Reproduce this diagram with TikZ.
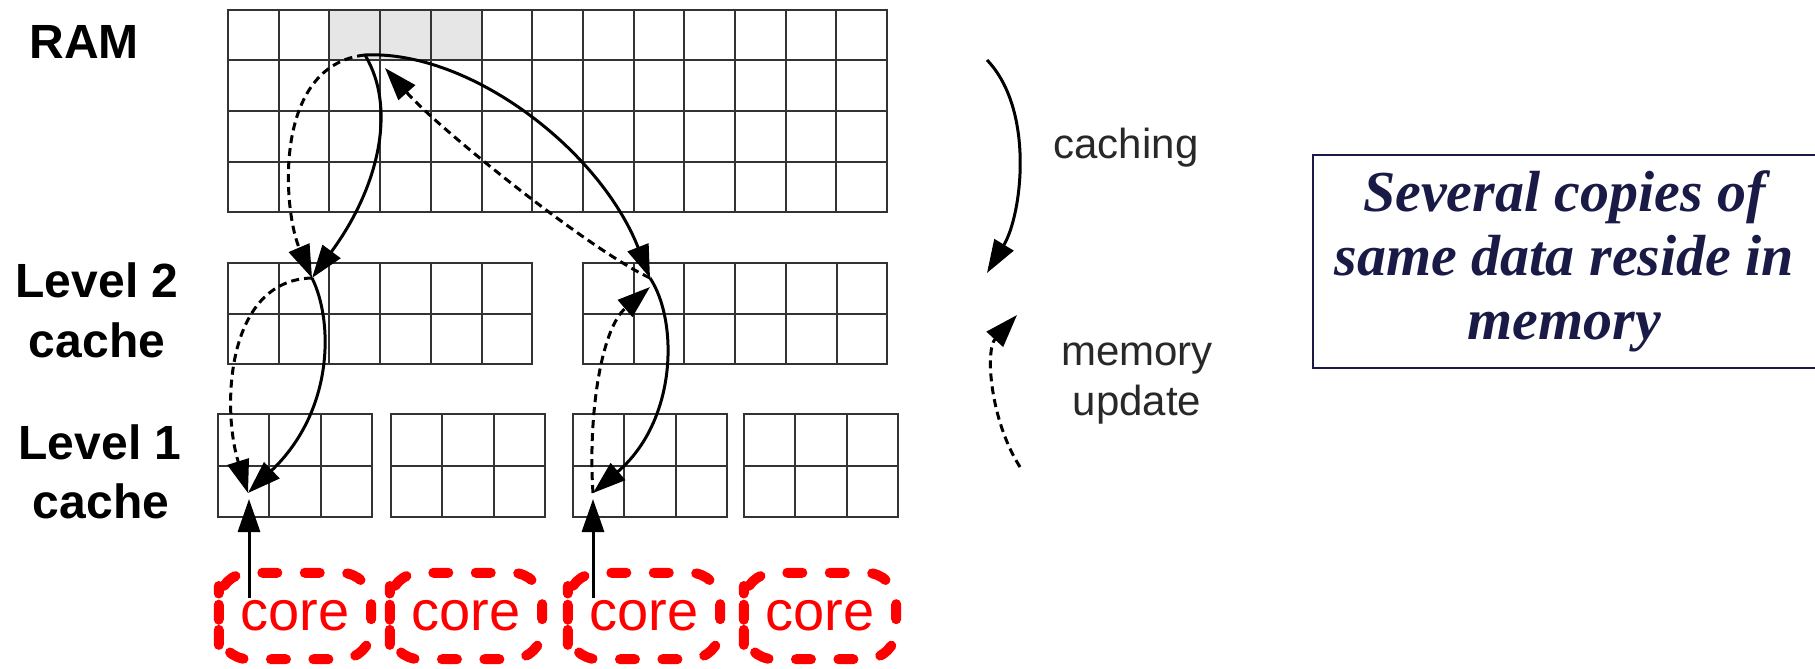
\documentclass[tikz,border=0pt]{standalone}
\usepackage{fontspec}
\setmainfont{Liberation Sans}
\newfontfamily\notefont{Liberation Serif}
\usetikzlibrary{arrows.meta}
\definecolor{navy}{RGB}{26,26,70}
\definecolor{cellgray}{RGB}{230,230,230}
\definecolor{labelgray}{RGB}{40,40,40}

% block of memory cells: x0, y0, columns, rows, cell width, cell height
\newcommand{\cellblock}[6]{%
  \foreach \ci in {0,...,#3}{\draw[gridline] ({#1+\ci*#5},#2) -- ({#1+\ci*#5},{#2+#4*#6});}
  \foreach \ri in {0,...,#4}{\draw[gridline] (#1,{#2+\ri*#6}) -- ({#1+#3*#5},{#2+\ri*#6});}
}

\begin{document}
\begin{tikzpicture}[x=1pt,y=-1pt,
  gridline/.style={line width=2pt, draw=black!80, line cap=rect},
  lbl/.style={font=\fontsize{48}{58}\selectfont\bfseries, anchor=base, inner sep=0pt},
  side/.style={font=\fontsize{42}{50}\selectfont, text=labelgray, anchor=base, inner sep=0pt},
  flow/.style={line width=3pt, -{Triangle[length=33pt,width=22pt]}},
  back/.style={flow, dash pattern=on 8pt off 5pt},
  corebox/.style={minimum width=152pt, minimum height=86pt, inner sep=0pt, text=red,
    font=\fontsize{56}{60}\selectfont},
  coreline/.style={draw=red, line width=10pt, line cap=round, rounded corners=30pt,
    dash pattern=on 15pt off 27.45pt, dash phase=7.5pt},
  note/.style={draw=navy, line width=2pt, text=navy, align=center, inner sep=0pt,
    minimum width=503pt, minimum height=213pt,
    font=\notefont\fontsize{58}{64}\selectfont\bfseries\itshape}
]
\useasboundingbox (0,0) rectangle (1815,669);

% shaded cells holding the data in RAM
\fill[cellgray] (329.4,10) rectangle (481.5,60.5);

% RAM, level 2 and level 1 caches
\cellblock{228}{10}{13}{4}{50.7}{50.5}
\cellblock{228}{263}{6}{2}{50.7}{50.5}
\cellblock{583}{263}{6}{2}{50.7}{50.5}
\cellblock{218}{414}{3}{2}{51.3}{51.5}
\cellblock{391}{414}{3}{2}{51.3}{51.5}
\cellblock{573}{414}{3}{2}{51.3}{51.5}
\cellblock{744}{414}{3}{2}{51.3}{51.5}

% level labels
\node[lbl] (ramlbl) at (84,59) {RAM};
\node[lbl] (l2a) at (97,297) {Level 2};
\node[lbl] (l2b) at (97,357) {cache};
\node[lbl] (l1a) at (100,459) {Level 1};
\node[lbl] (l1b) at (101,518) {cache};

% cores
\foreach \n/\cx in {1/295,2/466,3/644,4/820}{
  \node[corebox] (c\n) at (\cx,616) {core};
  \draw[coreline] (c\n.west) -- (c\n.north west) -- (c\n.north east)
    -- (c\n.south east) -- (c\n.south west) -- cycle;
}

% points where the copies live
\coordinate (S) at (365,55);
\coordinate (R) at (385,68);
\coordinate (A2) at (312,278);
\coordinate (B2) at (650,278);
\coordinate (B2u) at (650,287);
\coordinate (A1) at (248,493);
\coordinate (B1) at (593,493);
\coordinate (A1c) at (249,499);
\coordinate (B1c) at (593,499);
\coordinate (A0) at (249,598);
\coordinate (B0) at (593,598);

% caching paths
\draw[flow] (S) .. controls (398,110) and (377,190) .. (A2);
\draw[flow] (A2) .. controls (333,320) and (335,410) .. (A1);
\draw[flow] (S) .. controls (470,50) and (600,150) .. (B2);
\draw[flow] (B2) .. controls (678,320) and (678,420) .. (B1);

% memory update paths
\draw[back] (S) .. controls (272,65) and (283,210) .. (A2);
\draw[back] (A2) .. controls (225,280) and (222,410) .. (A1);
\draw[back] (B2) .. controls (590,250) and (440,130) .. (R);
\draw[back] (B1) .. controls (588,420) and (600,330) .. (B2u);

% core accesses
\draw[flow] (A0) -- (A1c);
\draw[flow] (B0) -- (B1c);

% legend
\coordinate (cs) at (987,60);
\coordinate (ce) at (987,273);
\coordinate (ms) at (1020,467);
\coordinate (me) at (1017,315);
\draw[flow] (cs) .. controls (1035,110) and (1022,215) .. (ce);
\draw[back] (ms) .. controls (990,420) and (985,350) .. (me);
\node[side] (cachinglbl) at (1126,158) {caching};
\node[side] (memlbl) at (1137,365) {memory};
\node[side] (updlbl) at (1137,415) {update};

% remark
\node[note] (msg) at (1564.5,261.5) {Several copies of\\same data reside in\\memory};
\end{tikzpicture}
\end{document}
